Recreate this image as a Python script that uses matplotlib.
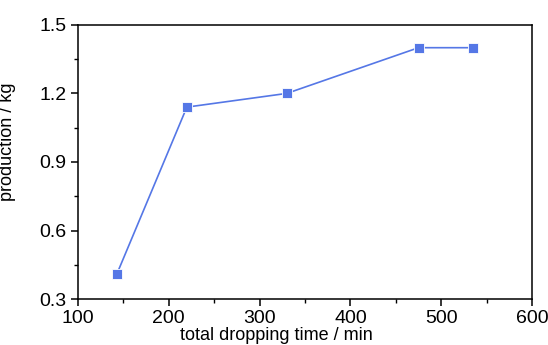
import matplotlib
matplotlib.use("Agg")
import matplotlib.pyplot as plt
from matplotlib.ticker import MultipleLocator

# dropping time (min) vs. production (kg)
drop_time = [143, 220, 330, 475, 535]
production = [0.41, 1.14, 1.20, 1.40, 1.40]

x_ticks = [100, 200, 300, 400, 500, 600]
y_ticks = [0.3, 0.6, 0.9, 1.2, 1.5]

plt.rcParams["font.family"] = ["Liberation Sans", "DejaVu Sans"]

fig = plt.figure(figsize=(5.48, 3.45), dpi=100)
ax = fig.add_axes([0.142, 0.133, 0.829, 0.795])

ax.plot(drop_time, production, color="#5577e6", lw=1.2, marker="s",
        ms=6.5, mfc="#5577e6", mec="white", mew=0.6)

ax.set_xlim(100, 600)
ax.set_ylim(0.3, 1.5)
ax.set_xticks(x_ticks)
ax.set_yticks(y_ticks)
ax.set_yticklabels([f"{v:.1f}" for v in y_ticks])
ax.xaxis.set_minor_locator(MultipleLocator(50))
ax.yaxis.set_minor_locator(MultipleLocator(0.15))

ax.tick_params(which="major", direction="out", length=5, width=1.1,
               labelsize=14, pad=3, top=False, right=False)
ax.tick_params(which="minor", direction="out", length=3, width=1.0,
               top=False, right=False)
for sp in ax.spines.values():
    sp.set_linewidth(1.1)

# labels sit a bit off-centre in the original
ax.set_xlabel("total dropping time / min", fontsize=13)
ax.xaxis.set_label_coords(0.436, -0.1)
ax.set_ylabel("production / kg", fontsize=13)
ax.yaxis.set_label_coords(-0.135, 0.573)

fig.savefig("out.png", dpi=100)
